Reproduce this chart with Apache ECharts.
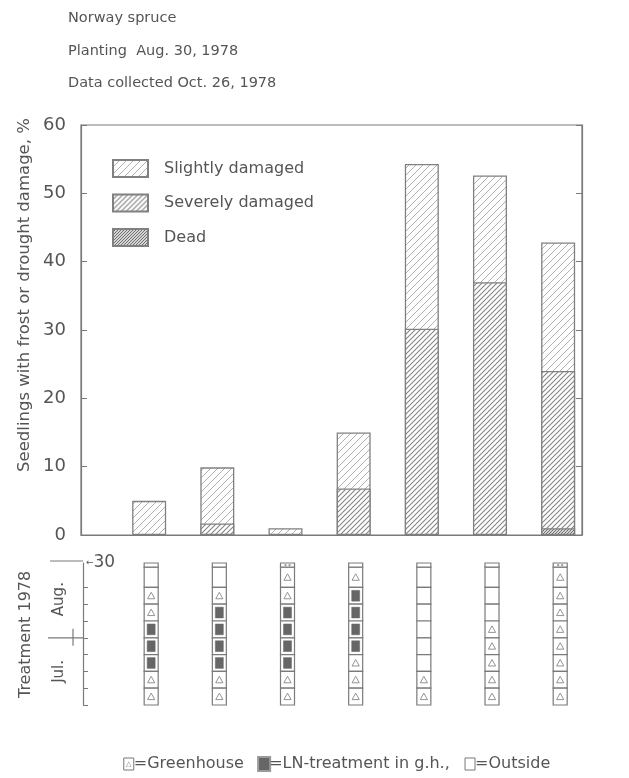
<!DOCTYPE html>
<html><head><meta charset="utf-8">
<script src="https://cdn.jsdelivr.net/npm/echarts@6/dist/echarts.min.js"></script>
<style>html,body{margin:0;padding:0;background:#fff;}#c{width:629px;height:778px;}</style>
</head><body><div id="c"></div>
<script>
// ---- data ----
const titleLines = ['Norway spruce', 'Planting  Aug. 30, 1978', 'Data collected Oct. 26, 1978'];
const yAxisTitle = 'Seedlings with frost or drought damage, %';
const seriesNames = ['Slightly damaged', 'Severely damaged', 'Dead'];
const treatmentIds = [1, 2, 3, 4, 5, 6, 7];
const slightlyDamaged = [5.0, 8.2, 1.0, 8.2, 24.1, 15.6, 18.8];
const severelyDamaged = [0, 1.7, 0, 6.8, 30.2, 37.0, 23.0];
const dead = [0, 0, 0, 0, 0, 0, 1.0];
// treatment per week, listed top (end of Aug.) to bottom (Jul.)
// G = greenhouse, L = LN-treatment in g.h., O = outside
const treatment1 = ['O', 'G', 'G', 'L', 'L', 'L', 'G', 'G'];
const treatment2 = ['O', 'G', 'L', 'L', 'L', 'L', 'G', 'G'];
const treatment3 = ['G', 'G', 'L', 'L', 'L', 'L', 'G', 'G'];
const treatment4 = ['G', 'L', 'L', 'L', 'L', 'G', 'G', 'G'];
const treatment5 = ['O', 'O', 'O', 'O', 'O', 'O', 'G', 'G'];
const treatment6 = ['O', 'O', 'O', 'G', 'G', 'G', 'G', 'G'];
const treatment7 = ['G', 'G', 'G', 'G', 'G', 'G', 'G', 'G'];
const capMarked = [false, false, true, false, false, false, true];
const monthLabels = ['Aug.', 'Jul.'];
const bottomLegend = ['=Greenhouse', '=LN-treatment in g.h.,', '=Outside'];

// ---- build ----
const FONT = 'DejaVu Sans';
const TXT = '#555';
const LINE = '#7a7a7a';

function hatch(step, color, lw) {
  const c = document.createElement('canvas');
  c.width = step; c.height = step;
  const ctx = c.getContext('2d');
  ctx.fillStyle = '#fff'; ctx.fillRect(0, 0, step, step);
  ctx.strokeStyle = color; ctx.lineWidth = lw;
  ctx.beginPath();
  ctx.moveTo(-1, step + 1); ctx.lineTo(step + 1, -1);
  ctx.moveTo(-1, 1); ctx.lineTo(1, -1);
  ctx.moveTo(step - 1, step + 1); ctx.lineTo(step + 1, step - 1);
  ctx.stroke();
  return { image: c, repeat: 'repeat' };
}

// segments are drawn as overlapping bars from the base: top of each segment = cumulative sum
const cumDead = dead.slice();
const cumSevere = severelyDamaged.map((v, i) => v + dead[i]);
const cumTotal = slightlyDamaged.map((v, i) => v + cumSevere[i]);
const pts = (arr, own) => arr.map((v, i) => [treatmentIds[i], own[i] === 0 ? '-' : v]);
const barStyle = (fill) => ({ color: fill, borderColor: '#808080', borderWidth: 1.3 });

const kindCode = { O: 0, G: 1, L: 2 };
const treatments = [treatment1, treatment2, treatment3, treatment4, treatment5, treatment6, treatment7];
const TOP_CELL = 8.2, CAP_TOP = 8.45;
const cellData = [];
treatments.forEach((col, i) => {
  col.forEach((k, r) => {
    const j = col.length - 1 - r;
    cellData.push([treatmentIds[i], j, j === col.length - 1 ? TOP_CELL : j + 1, kindCode[k]]);
  });
  cellData.push([treatmentIds[i], TOP_CELL, CAP_TOP, capMarked[i] ? 4 : 3]);
});

function renderCell(params, api) {
  const x = api.value(0), y0 = api.value(1), y1 = api.value(2), kind = api.value(3);
  const p0 = api.coord([x, y0]), p1 = api.coord([x, y1]);
  const w = 14, left = p0[0] - w / 2, ty = p1[1], h = p0[1] - p1[1];
  const ch = [{ type: 'rect', shape: { x: left, y: ty, width: w, height: h },
    style: { fill: '#fff', stroke: LINE, lineWidth: 1.2 } }];
  const cx = p0[0], cy = ty + h / 2;
  if (kind === 1) {
    ch.push({ type: 'polygon', shape: { points: [[cx, cy - 3.5], [cx - 3.6, cy + 3], [cx + 3.6, cy + 3]] },
      style: { fill: 'none', stroke: '#888', lineWidth: 0.9 } });
  } else if (kind === 2) {
    ch.push({ type: 'rect', shape: { x: left + 3, y: ty + 3, width: w - 6, height: h - 6 },
      style: { fill: '#666', stroke: '#666', lineWidth: 0.5 } });
  } else if (kind === 4) {
    ch.push({ type: 'rect', shape: { x: cx - 3, y: cy - 1, width: 2, height: 2 }, style: { fill: '#999' } });
    ch.push({ type: 'rect', shape: { x: cx + 1, y: cy - 1, width: 2, height: 2 }, style: { fill: '#999' } });
  }
  return { type: 'group', children: ch };
}

const chart = echarts.init(document.getElementById('c'), null, { renderer: 'canvas' });
const option = {
  animation: false,
  backgroundColor: '#fff',
  textStyle: { fontFamily: FONT, color: TXT },
  title: {
    text: titleLines.join('\n'), left: 63, top: -3,
    textStyle: { fontFamily: FONT, fontSize: 14.5, fontWeight: 'normal', color: TXT, lineHeight: 32.5 }
  },
  legend: {
    data: seriesNames, orient: 'vertical', left: 112, top: 159,
    itemWidth: 35, itemHeight: 17, itemGap: 15.5, icon: 'rect', padding: 0,
    textStyle: { fontFamily: FONT, fontSize: 16, color: TXT, padding: [0, 0, 0, 11] }
  },
  grid: [
    { left: 81, right: 47, top: 125, bottom: 243, show: true, borderColor: LINE, borderWidth: 1.2, backgroundColor: 'transparent' },
    { left: 83, right: 47, top: 563, bottom: 73 }
  ],
  xAxis: [
    { type: 'value', gridIndex: 0, min: 0, max: 7.35,
      axisLine: { show: true, onZero: false, lineStyle: { color: LINE, width: 1.2 } },
      axisTick: { show: false }, axisLabel: { show: false }, splitLine: { show: false } },
    { type: 'value', gridIndex: 1, min: 0, max: 7.32, show: false, splitLine: { show: false } }
  ],
  yAxis: [
    { type: 'value', gridIndex: 0, min: 0, max: 60, interval: 10, position: 'left',
      axisLine: { show: true, lineStyle: { color: LINE, width: 1.2 } },
      axisTick: { show: true, inside: true, length: 6, lineStyle: { color: LINE } },
      axisLabel: { fontFamily: FONT, fontSize: 18, color: TXT, margin: 15 },
      splitLine: { show: false } },
    { type: 'value', gridIndex: 0, min: 0, max: 60, interval: 10, position: 'right',
      axisLine: { show: true, lineStyle: { color: LINE, width: 1.2 } },
      axisTick: { show: true, inside: true, length: 6, lineStyle: { color: LINE } },
      axisLabel: { show: false }, splitLine: { show: false } },
    { type: 'value', gridIndex: 1, min: 0, max: CAP_TOP, interval: 1, position: 'left',
      axisLine: { show: true, lineStyle: { color: LINE, width: 1.2 } },
      axisTick: { show: true, inside: true, length: 5, lineStyle: { color: LINE },
        customValues: [0, 1, 2, 3, 4, 5, 6, 7] },
      axisLabel: { show: false }, splitLine: { show: false } }
  ],
  series: [
    { name: seriesNames[0], type: 'bar', xAxisIndex: 0, yAxisIndex: 0, barWidth: 34, barGap: '-100%', z: 2,
      data: pts(cumTotal, slightlyDamaged), itemStyle: barStyle(hatch(7, '#b0b0b0', 1)) },
    { name: seriesNames[1], type: 'bar', xAxisIndex: 0, yAxisIndex: 0, barWidth: 34, barGap: '-100%', z: 3,
      data: pts(cumSevere, severelyDamaged), itemStyle: barStyle(hatch(5, '#858585', 1.1)) },
    { name: seriesNames[2], type: 'bar', xAxisIndex: 0, yAxisIndex: 0, barWidth: 34, barGap: '-100%', z: 4,
      data: pts(cumDead, dead), itemStyle: barStyle(hatch(3, '#6a6a6a', 1.1)) },
    { name: 'treatment', type: 'custom', xAxisIndex: 1, yAxisIndex: 2, renderItem: renderCell,
      data: cellData, silent: true }
  ]
};
chart.setOption(option);

// ---- annotations ----
const px = (v) => chart.convertToPixel({ xAxisIndex: 1, yAxisIndex: 2 }, v);
const pTop = px([0, CAP_TOP]), pSep = px([0, 4]), pAug = px([0, 6.3]), pJul = px([0, 2]), pMid = px([0, 4.2]);
const axX = pTop[0];
const rot = (text, x, y, size) => ({ type: 'text', x: x, y: y, rotation: Math.PI / 2,
  style: { text: text, fontFamily: FONT, fontSize: size, fill: TXT, align: 'center', verticalAlign: 'middle' } });
chart.setOption({
  graphic: [
    rot(yAxisTitle, 25, 295, 16.5),
    { type: 'line', shape: { x1: axX - 33, y1: pTop[1] - 2, x2: axX, y2: pTop[1] - 2 }, style: { stroke: LINE, lineWidth: 1.2 } },
    { type: 'line', shape: { x1: axX - 35, y1: pSep[1], x2: axX, y2: pSep[1] }, style: { stroke: LINE, lineWidth: 1.2 } },
    { type: 'line', shape: { x1: axX - 10, y1: pSep[1] - 9, x2: axX - 10, y2: pSep[1] + 8 }, style: { stroke: LINE, lineWidth: 1.2 } },
    { type: 'text', x: axX + 3, y: pTop[1],
      style: { text: '{a|←}{b|30}', fontFamily: FONT, fill: TXT, verticalAlign: 'middle',
        rich: { a: { fontSize: 9, fill: TXT, fontFamily: FONT }, b: { fontSize: 17, fill: TXT, fontFamily: FONT } } } },
    rot(monthLabels[0], axX - 24, pAug[1], 15),
    rot(monthLabels[1], axX - 24, pJul[1], 15),
    rot('Treatment 1978', 26, pMid[1], 16),
    { type: 'text', x: 337, y: 764,
      style: {
        text: '{gh|△}' + bottomLegend[0] + '   {ln| }' + bottomLegend[1] + '   {out| }' + bottomLegend[2],
        fontFamily: FONT, fontSize: 16, fill: TXT, align: 'center', verticalAlign: 'middle',
        rich: {
          gh: { width: 10, height: 12, borderColor: '#777', borderWidth: 1, fontSize: 7, align: 'center', fill: '#777', lineHeight: 12 },
          ln: { width: 10, height: 12, borderColor: '#999', borderWidth: 2, backgroundColor: '#666', fontSize: 7, lineHeight: 12 },
          out: { width: 10, height: 12, borderColor: '#777', borderWidth: 1, fontSize: 7, lineHeight: 12 }
        }
      } }
  ]
});
</script></body></html>
